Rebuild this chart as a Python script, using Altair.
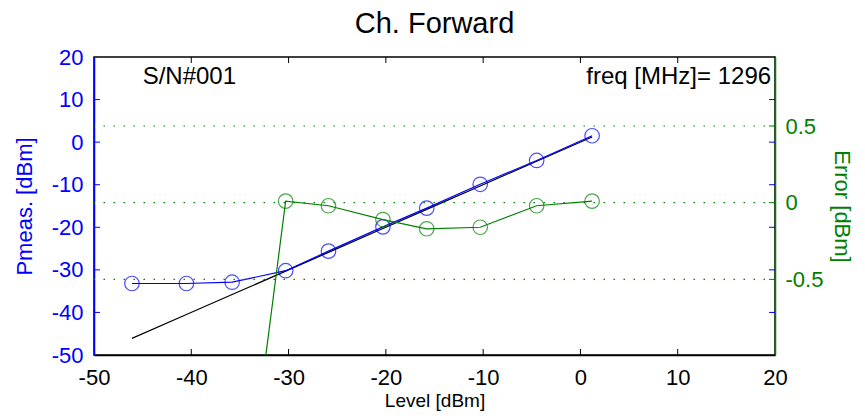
import altair as alt
import pandas as pd

# ---- data ----
level = [-46.1, -40.5, -35.8, -30.3, -25.9, -20.3, -15.8, -10.3, -4.5, 1.2]
pmeas = [-33.2, -33.2, -32.9, -30.2, -25.6, -19.9, -15.5, -9.9, -4.3, 1.5]
ideal = [-46.1, -40.5, -35.8, -30.3, -25.9, -20.3, -15.8, -10.3, -4.5, 1.2]
error = [-12.9, -7.3, -2.7, 0.01, -0.02, -0.11, -0.17, -0.16, -0.02, 0.01]

x_ticks = [-50, -40, -30, -20, -10, 0, 10, 20]
left_ticks = [-50, -40, -30, -20, -10, 0, 10, 20]
right_ticks = [-0.5, 0, 0.5]
x_inner_ticks = [-40, -30, -20, -10, 0, 10]
left_inner_ticks = [-40, -30, -20, -10, 0, 10]

x_domain = [-50, 20]
left_domain = [-50, 20]
right_domain = [-0.993, 0.95]

annot_x = [-45.0, 19.6]
annot_y = [15.3, 15.3]
annot_t = ["S/N#001", "freq [MHz]= 1296"]

BLUE = "#0000FF"
GREEN = "#008000"
FONT = "Liberation Sans"
W, H = 681, 298

df = pd.DataFrame({"x": level, "pm": pmeas, "ideal": ideal, "err": error})
df_xt = pd.DataFrame({"x": x_inner_ticks})
df_lt = pd.DataFrame({"pm": left_inner_ticks})
df_rt = pd.DataFrame({"err": right_ticks})
df_txt = pd.DataFrame({"x": annot_x, "pm": annot_y, "t": annot_t})

xscale = alt.Scale(domain=x_domain, nice=False, zero=False)
lscale = alt.Scale(domain=left_domain, nice=False, zero=False)
rscale = alt.Scale(domain=right_domain, nice=False, zero=False)

xaxis = alt.Axis(values=x_ticks, tickSize=0, labelColor="black", labelFontSize=22,
                 labelPadding=12, domainColor="black", domainWidth=1.5, grid=False,
                 title="Level [dBm]", titleFontSize=19, titleFontWeight="normal",
                 titlePadding=3, labelExpr="'' + datum.value", labelFlush=False)
laxis = alt.Axis(values=left_ticks, tickSize=0, labelColor=BLUE, labelFontSize=22,
                 labelPadding=11, domainColor=BLUE, domainWidth=1.5, grid=False,
                 title="Pmeas. [dBm]", titleColor=BLUE, titleFontSize=22,
                 titleFontWeight="normal", titlePadding=15,
                 labelExpr="'' + datum.value", labelFlush=False)
raxis = alt.Axis(values=right_ticks, orient="right", tickSize=0, labelColor=GREEN,
                 labelFontSize=22, labelPadding=10, domainColor=GREEN, domainWidth=1.5,
                 grid=False, title="Error [dBm]", titleColor=GREEN, titleFontSize=22,
                 titleFontWeight="normal", titlePadding=7,
                 labelExpr="'' + datum.value", labelFlush=False)

X = alt.X("x:Q", scale=xscale, axis=xaxis)
YL = lambda f: alt.Y(f"{f}:Q", scale=lscale, axis=laxis)
YR = lambda f: alt.Y(f"{f}:Q", scale=rscale, axis=raxis)

base = alt.Chart(df)

# ---- left (Pmeas) group ----
black_line = base.mark_line(color="black", strokeWidth=1.2, clip=True).encode(x=X, y=YL("ideal"))
blue_line = base.mark_line(color=BLUE, strokeWidth=1.2, clip=True).encode(x=X, y=YL("pm"))
blue_pts = base.mark_point(shape="circle", filled=False, color=BLUE, size=210,
                           strokeWidth=1.2, clip=True).encode(x=X, y=YL("pm"))
texts = alt.Chart(df_txt).mark_text(fontSize=24, font=FONT, color="black", baseline="middle",
                                    align=alt.ExprRef("datum.t == 'S/N#001' ? 'left' : 'right'")
                                    ).encode(x=X, y=YL("pm"), text="t:N")
lt_left = alt.Chart(df_lt).mark_rule(color=BLUE, strokeWidth=1).encode(
    y=YL("pm"), x=alt.value(0), x2=alt.value(6))
lt_right = alt.Chart(df_lt).mark_rule(color=BLUE, strokeWidth=1).encode(
    y=YL("pm"), x=alt.value(W - 6), x2=alt.value(W))
xt_top = alt.Chart(df_xt).mark_rule(color="black", strokeWidth=1).encode(
    x=X, y=alt.value(0), y2=alt.value(6))
xt_bot = alt.Chart(df_xt).mark_rule(color="black", strokeWidth=1).encode(
    x=X, y=alt.value(H - 6), y2=alt.value(H))

left_group = alt.layer(xt_top, xt_bot, lt_left, lt_right, black_line, blue_line, blue_pts, texts)

# ---- right (Error) group ----
grid = alt.Chart(df_rt).mark_rule(color=GREEN, strokeWidth=1.2, strokeDash=[1.5, 8.5]).encode(
    y=YR("err"))
rt_right = alt.Chart(df_rt).mark_rule(color=GREEN, strokeWidth=1).encode(
    y=YR("err"), x=alt.value(W - 6), x2=alt.value(W))
green_line = base.mark_line(color=GREEN, strokeWidth=1.2, clip=True).encode(x=X, y=YR("err"))
green_pts = base.mark_point(shape="circle", filled=False, color=GREEN, size=210,
                            strokeWidth=1.2, clip=True).encode(x=X, y=YR("err"))

right_group = alt.layer(grid, rt_right, green_line, green_pts)

chart = alt.layer(left_group, right_group).resolve_scale(y="independent").properties(
    width=W, height=H,
    title=alt.TitleParams("Ch. Forward", fontSize=29, fontWeight="normal", font=FONT,
                          color="black", offset=7, anchor="middle"),
    padding={"left": 86, "top": 49, "right": 82, "bottom": 56},
    autosize=alt.AutoSizeParams(type="none"),
).configure(font=FONT).configure_view(stroke="black", strokeWidth=1.5).configure_axis(
    labelFont=FONT, titleFont=FONT)

chart.save("out.html", embed_options={"renderer": "svg", "actions": False})
